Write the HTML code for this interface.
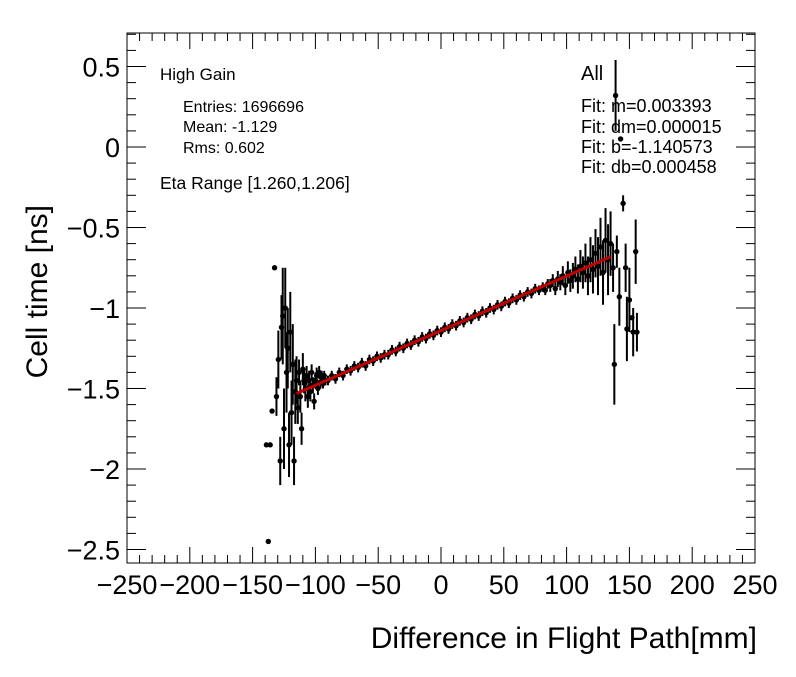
<!DOCTYPE html>
<html><head><meta charset="utf-8"><style>
body{margin:0;background:#fff}
svg text{font-family:"Liberation Sans",sans-serif;fill:#000}
</style></head><body>
<svg id="c" width="796" height="672" xmlns="http://www.w3.org/2000/svg"></svg>
<script>
const xTicks=[-250,-200,-150,-100,-50,0,50,100,150,200,250];
const xTickLabels=["\u2212250","\u2212200","\u2212150","\u2212100","\u221250","0","50","100","150","200","250"];
const yTicks=[0.5,0,-0.5,-1,-1.5,-2,-2.5];
const yTickLabels=["0.5","0","\u22120.5","\u22121","\u22121.5","\u22122","\u22122.5"];
const ptX=[-139,-137.5,-136,-134.5,-132.5,-131,-129.5,-128,-127,-126,-125,-124,-123,-122,-121,-120,-119,-118,-117,-116,-115,-114,-113,-112,-111,-110,-109,-108,-107,-106,-105,-104,-103,-102,-101,-100,-99,-98,-97,-96,-95,-94,-93,-92,
-90,-87,-84,-81,-78,-75,-72,-69,-66,-63,-60,-57,-54,-51,-48,-45,-42,-39,-36,-33,-30,-27,-24,-21,-18,-15,-12,-9,-6,-3,0,3,6,9,12,15,18,21,24,27,30,33,36,39,42,45,48,51,54,57,60,63,66,69,72,75,78,
81,83,85,87,89,91,93,95,97,99,101,103,105,107,109,111,113,115,117,119,121,123,125,127,129,131,133,135,137,138,139,140,142,143,145,147,148,150,152,153,155,156];
const ptY=[-1.85,-2.45,-1.85,-1.64,-0.75,-1.55,-1.32,-1.95,-1.12,-1.05,-1.75,-1.0,-1.4,-1.25,-1.85,-1.15,-1.65,-1.35,-1.95,-1.52,-1.45,-1.62,-1.4,-1.55,-1.75,-1.38,-1.45,-1.5,-1.42,-1.55,-1.45,-1.52,-1.4,-1.48,-1.58,-1.45,-1.42,-1.5,-1.4,-1.46,-1.43,-1.47,-1.42,-1.45,
-1.45,-1.42,-1.44,-1.40,-1.42,-1.38,-1.39,-1.36,-1.37,-1.34,-1.36,-1.32,-1.33,-1.30,-1.31,-1.29,-1.29,-1.26,-1.27,-1.24,-1.25,-1.22,-1.23,-1.20,-1.21,-1.18,-1.19,-1.16,-1.17,-1.14,-1.15,-1.12,-1.13,-1.10,-1.11,-1.08,-1.09,-1.06,-1.07,-1.04,-1.05,-1.02,-1.03,-1.00,-1.01,-0.98,-0.99,-0.96,-0.97,-0.94,-0.95,-0.92,-0.93,-0.90,-0.91,-0.88,-0.89,
-0.87,-0.89,-0.85,-0.86,-0.83,-0.88,-0.82,-0.84,-0.80,-0.86,-0.78,-0.83,-0.80,-0.76,-0.82,-0.74,-0.78,-0.72,-0.80,-0.70,-0.76,-0.66,-0.74,-0.62,-0.78,-0.58,-0.70,-0.60,-0.75,-1.35,0.32,-0.65,-0.93,0.05,-0.35,-0.75,-1.13,-0.95,-1.06,-1.15,-0.65,-1.15];
const ptErr=[0,0,0,0,0,0.12,0.18,0.15,0.2,0.3,0.25,0.25,0.25,0.25,0.2,0.25,0.2,0.25,0.15,0.2,0.15,0.1,0.08,0.1,0.1,0.1,0.08,0.08,0.06,0.07,0.06,0.06,0.05,0.05,0.05,0.05,0.05,0.04,0.04,0.04,0.04,0.03,0.03,0.03,
0.03,0.03,0.03,0.03,0.03,0.03,0.03,0.03,0.03,0.03,0.03,0.03,0.03,0.03,0.03,0.03,0.03,0.03,0.03,0.03,0.03,0.03,0.03,0.03,0.03,0.03,0.03,0.03,0.03,0.03,0.03,0.03,0.03,0.03,0.03,0.03,0.03,0.03,0.03,0.03,0.03,0.03,0.03,0.03,0.03,0.03,0.03,0.03,0.03,0.03,0.03,0.03,0.03,0.03,0.03,0.03,0.03,
0.03,0.03,0.03,0.04,0.04,0.04,0.05,0.05,0.06,0.06,0.07,0.07,0.08,0.08,0.09,0.1,0.1,0.12,0.12,0.14,0.15,0.15,0.18,0.18,0.2,0.2,0.22,0.2,0.15,0.25,0.22,0.1,0.18,0,0.05,0.15,0.2,0.2,0,0.15,0.2,0.12];
const fitM=0.003393, fitB=-1.140573, fitX0=-115, fitX1=135;

const L=127,R=755,T=33,B=563;
const xs=v=>L+(v+250)/500*(R-L);
const ys=v=>147-v*161;
const svg=document.getElementById('c');
const NS='http://www.w3.org/2000/svg';
function mk(t,a,p){const e=document.createElementNS(NS,t);for(const k in a)e.setAttribute(k,a[k]);(p||svg).appendChild(e);return e;}
const frame=mk('rect',{x:L,y:T,width:R-L,height:B-T,fill:'none',stroke:'#000','stroke-width':1});


const ax=mk('g',{stroke:'#000','stroke-width':1});


for(let v=-250;v<=250;v+=10){const x=xs(v);const len=(v%50===0)?16:8;
 mk('line',{x1:x,y1:B,x2:x,y2:B-len},ax);mk('line',{x1:x,y1:T,x2:x,y2:T+len},ax);}
for(let i=-25;i<=7;i++){const v=i/10;const y=ys(v);if(y<T||y>B)continue;const len=(i%5===0)?19:9;
 mk('line',{x1:L,y1:y,x2:L+len,y2:y},ax);mk('line',{x1:R,y1:y,x2:R-len,y2:y},ax);}
xTicks.forEach((v,i)=>{const t=mk('text',{x:xs(v),y:594,'font-size':27,'text-anchor':'middle'});t.textContent=xTickLabels[i];
 
 });
yTicks.forEach((v,i)=>{const t=mk('text',{x:120,y:ys(v)+10,'font-size':27,'text-anchor':'end'});t.textContent=yTickLabels[i];
 
 });
const xt=mk('text',{x:757,y:648,'font-size':30,'text-anchor':'end'});xt.textContent='Difference in Flight Path[mm]';


const yt=mk('text',{x:47,y:205,'font-size':30,'text-anchor':'end',transform:'rotate(-90 47 205)'});yt.textContent='Cell time [ns]';


const pts=mk('g',{});


ptX.forEach((xv,i)=>{const x=xs(xv),y=ys(ptY[i]),e=ptErr[i]*161;
 if(e>0){const l=mk('line',{x1:x,y1:y-e,x2:x,y2:y+e,stroke:'#000','stroke-width':2},pts);
  
  }
 const c=mk('circle',{cx:x,cy:y,r:2.7,fill:'#000'},pts);
 
 });
const fl=mk('line',{x1:xs(fitX0),y1:ys(fitB+fitM*fitX0),x2:xs(fitX1),y2:ys(fitB+fitM*fitX1),stroke:'#c00000','stroke-width':3});


const labels=[[160,80,'High Gain','label-high-gain',17],[183,112,'Entries: 1696696','stat-entries',16],[183,132,'Mean: -1.129','stat-mean',16],[183,153,'Rms: 0.602','stat-rms',16],[160,189,'Eta Range [1.260,1.206]','eta-range',17.5],
[581,80,'All','label-all',20],[581,112,'Fit: m=0.003393','fit-m',18],[581,133,'Fit: dm=0.000015','fit-dm',18],[581,153,'Fit: b=-1.140573','fit-b',18],[581,173,'Fit: db=0.000458','fit-db',18]];
labels.forEach(a=>{const t=mk('text',{x:a[0],y:a[1],'font-size':a[4]});t.textContent=a[2];
 
 });
</script>
</body></html>
